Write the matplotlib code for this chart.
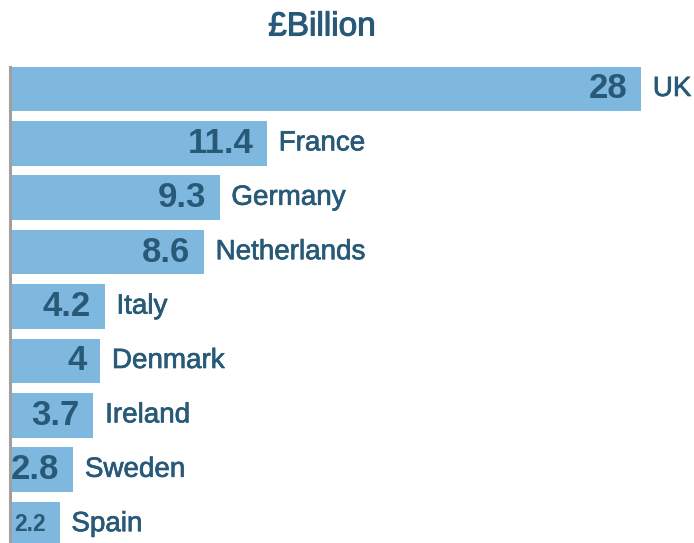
import matplotlib
matplotlib.use("Agg")
import matplotlib.pyplot as plt
import matplotlib.patheffects as pe

countries = ["UK", "France", "Germany", "Netherlands", "Italy", "Denmark", "Ireland", "Sweden", "Spain"]
values = [28, 11.4, 9.3, 8.6, 4.2, 4, 3.7, 2.8, 2.2]
value_labels = ["28", "11.4", "9.3", "8.6", "4.2", "4", "3.7", "2.8", "2.2"]
title = "£Billion"

BAR = "#7eb8de"
TXT = "#285a78"
plt.rcParams['font.family'] = ['Liberation Sans', 'DejaVu Sans']

W, H = 694, 543
fig = plt.figure(figsize=(W / 100, H / 100), dpi=100)
left_px, right_px = 10, 641
top_px = 61.8
ax = fig.add_axes([left_px / W, 0, (right_px - left_px) / W, 1 - top_px / H])

pos = list(range(len(countries)))
bh = 0.82
ax.barh(pos, values, height=bh, color=BAR, edgecolor='none', zorder=2)
ax.set_xlim(0, 28)
ax.set_ylim(8.346, -0.5)

for s in ["top", "right", "bottom"]:
    ax.spines[s].set_visible(False)
ax.spines["left"].set_color("#a0a0a0")
ax.spines["left"].set_linewidth(2.2)
ax.spines["left"].set_bounds(-bh / 2, 8.346)
ax.spines["left"].set_zorder(3)
ax.set_xticks([])
ax.set_yticks([])
ax.patch.set_alpha(0)

thick = [pe.withStroke(linewidth=0.5, foreground=TXT)]

for i, (c, v, lab) in enumerate(zip(countries, values, value_labels)):
    fs = 16.5 if c == "Spain" else 25
    ax.annotate(lab, xy=(v, i), xytext=(-10, 0), textcoords="offset points",
                ha="right", va="center", fontsize=fs, fontweight="bold", color=TXT)
    ax.annotate(c, xy=(v, i), xytext=(8.5, 0), textcoords="offset points",
                ha="left", va="center", fontsize=20, color=TXT, annotation_clip=False,
                path_effects=thick)

fig.text(322 / W, 1 - 27 / H, title, ha="center", va="center", fontsize=24, color=TXT,
         path_effects=[pe.withStroke(linewidth=0.8, foreground=TXT)])

fig.savefig("out.png", dpi=100)
